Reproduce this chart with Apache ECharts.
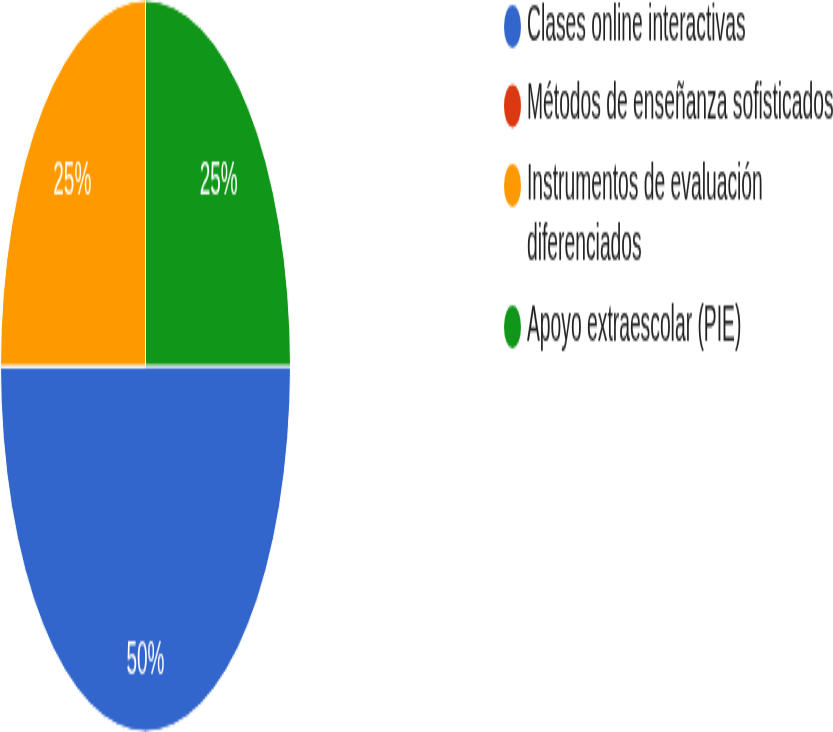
<!DOCTYPE html>
<html>
<head>
<meta charset="utf-8">
<script src="https://cdn.jsdelivr.net/npm/echarts@6/dist/echarts.min.js"></script>
<style>
  html, body { margin: 0; padding: 0; background: #fff; }
  #wrap { width: 833px; height: 732px; overflow: hidden; }
  /* the reference is a pie squeezed into a tall ellipse, so the whole chart is stretched vertically */
  #chart {
    width: 833px;
    height: 290px;
    transform: scaleY(2.524);
    transform-origin: 0 0;
  }
</style>
</head>
<body>
<div id="wrap"><div id="chart"></div></div>
<script>
const categories = [
  "Clases online interactivas",
  "Métodos de enseñanza sofisticados",
  "Instrumentos de evaluación diferenciados",
  "Apoyo extraescolar (PIE)"
];
const values = [50, 0, 25, 25];
const colors = ["#3366cc", "#dc3912", "#ff9900", "#109618"];

const font = 'Arial, "Liberation Sans", sans-serif';
const chart = echarts.init(document.getElementById("chart"));

const pieData = categories.map((name, i) => ({ name, value: values[i] }));

// one legend per entry so the wrapped entry keeps its dot on the first line
const legendTops = [0, 31.5, 37.5, 119];
const legends = categories.map((name, i) => {
  const wrapped = i === 2;
  return {
    orient: "vertical",
    left: 502,
    top: legendTops[i],
    padding: 0,
    icon: "circle",
    itemWidth: 19,
    itemHeight: 19,
    data: [name],
    // empty first line pushes the two real lines down so line one sits on the dot
    formatter: wrapped ? n => "\n" + n : n => n,
    textStyle: {
      fontFamily: font,
      fontSize: 19.3,
      color: "#222",
      lineHeight: wrapped ? 24 : 20,
      width: wrapped ? 290 : undefined,
      overflow: wrapped ? "break" : "none"
    }
  };
});

// the half slice label sits a bit further out than the quarter ones
function labelRing(inner, showFn) {
  return {
    type: "pie",
    center: [145.5, 145],
    radius: [inner, 145],
    startAngle: 0,
    clockwise: true,
    silent: true,
    legendHoverLink: false,
    itemStyle: { color: "transparent" },
    label: {
      position: "inside",
      color: "#fff",
      fontFamily: font,
      fontSize: 19,
      formatter: p => Math.round(p.percent) + "%"
    },
    labelLine: { show: false },
    data: pieData.map((d, i) => ({ ...d, label: { show: values[i] > 0 && showFn(i) } }))
  };
}

chart.setOption({
  animation: false,
  color: colors,
  legend: legends,
  series: [
    {
      type: "pie",
      center: [145.5, 145],
      radius: 145,
      startAngle: 0,
      clockwise: true,
      label: { show: false },
      labelLine: { show: false },
      itemStyle: { borderColor: "#fff", borderWidth: 1 },
      emphasis: { scale: false },
      data: pieData
    },
    labelRing(56, i => i !== 0),
    labelRing(83, i => i === 0)
  ]
});
</script>
</body>
</html>
